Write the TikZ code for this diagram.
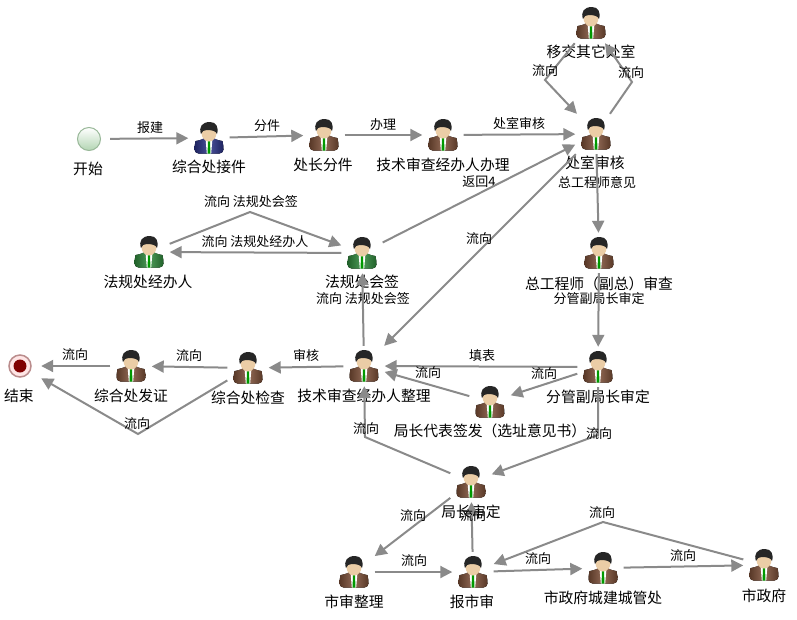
\documentclass[tikz,border=0pt]{standalone}
\usepackage{fontspec}
\setmainfont{Noto Sans CJK SC}
\usetikzlibrary{arrows.meta}
\definecolor{flowgray}{HTML}{8A8A8A}
\definecolor{jacketbrown}{HTML}{7E5038}
\definecolor{jacketblue}{HTML}{2A3288}
\definecolor{jacketgreen}{HTML}{2F8A3C}
\definecolor{skintone}{HTML}{EBCDA6}
\tikzset{
	flow/.style={draw=flowgray, line width=2pt, -{Triangle[length=12pt,width=12pt]}},
	clerknode/.style={rectangle, minimum width=41pt, minimum height=40pt, inner sep=0pt},
	eventnode/.style={rectangle, minimum size=42pt, inner sep=0pt},
	nodetext/.style={font=\fontsize{14.8}{16}\selectfont, inner sep=0pt},
	flowtext/.style={font=\fontsize{13}{14}\selectfont, inner sep=0pt},
	clerk/.pic={
		\fill[left color=#1!70!black, right color=#1!70!black, middle color=#1!85!white, rounded corners=4pt]
			(-14.5,15.5) -- (-14.5,7) .. controls (-13.5,3) and (-8,2) .. (-4,-1) -- (4,-1) .. controls (8,2) and (13.5,3) .. (14.5,7) -- (14.5,15.5) -- cycle;
		\fill[white] (-3.5,0) -- (3.5,0) -- (2.2,15.5) -- (-2.2,15.5) -- cycle;
		\fill[green!60!black] (-1,0) -- (1,0) -- (1.4,15.5) -- (-1.4,15.5) -- cycle;
		\fill[skintone] (0,-5) ellipse (7.5 and 8.5);
		\fill[black!85] (-8,-4) .. controls (-10.5,-11) and (-7,-16) .. (1,-16) .. controls (7,-16) and (10,-11) .. (8,-4) .. controls (7,-7) and (3,-8) .. (-2,-8) .. controls (-5,-8) and (-7,-7) .. (-8,-4) -- cycle;
	}
}
\begin{document}
\begin{tikzpicture}[x=1pt, y=-1pt]
	\useasboundingbox (0,0) rectangle (797,619);
	%%%%% NODES %%%%%
	\node[eventnode] (start) at (89,139) {};
	\draw[draw=green!30!black!40!white, top color=white, bottom color=green!45!black!30!white, line width=1pt] (start) circle (11.5);
	\node[clerknode] (accept) at (209,138) {};
	\pic at (accept) {clerk=jacketblue};
	\node[clerknode] (split) at (324,135) {};
	\pic at (split) {clerk=jacketbrown};
	\node[clerknode] (handle) at (443,135) {};
	\pic at (handle) {clerk=jacketbrown};
	\node[clerknode] (review) at (596,134) {};
	\pic at (review) {clerk=jacketbrown};
	\node[clerknode] (transfer) at (591,23) {};
	\pic at (transfer) {clerk=jacketbrown};
	\node[clerknode] (legalclerk) at (149,252) {};
	\pic at (legalclerk) {clerk=jacketgreen};
	\node[clerknode] (legalsign) at (362,253) {};
	\pic at (legalsign) {clerk=jacketgreen};
	\node[clerknode] (chief) at (599,253) {};
	\pic at (chief) {clerk=jacketbrown};
	\node[clerknode] (deputy) at (598,367) {};
	\pic at (deputy) {clerk=jacketbrown};
	\node[clerknode] (tidy) at (364,366) {};
	\pic at (tidy) {clerk=jacketbrown};
	\node[clerknode] (check) at (248,368) {};
	\pic at (check) {clerk=jacketbrown};
	\node[clerknode] (issue) at (131,366) {};
	\pic at (issue) {clerk=jacketbrown};
	\node[eventnode] (finish) at (20,366) {};
	\draw[draw=red!40!black!45!white, fill=red!10!white, line width=1.5pt] (finish) circle (11);
	\fill[red!50!black] (finish) circle (6.5);
	\node[clerknode] (proxy) at (490,402) {};
	\pic at (proxy) {clerk=jacketbrown};
	\node[clerknode] (bureau) at (471,482) {};
	\pic at (bureau) {clerk=jacketbrown};
	\node[clerknode] (citytidy) at (354,572) {};
	\pic at (citytidy) {clerk=jacketbrown};
	\node[clerknode] (cityreport) at (473,572) {};
	\pic at (cityreport) {clerk=jacketbrown};
	\node[clerknode] (cityoffice) at (603,568) {};
	\pic at (cityoffice) {clerk=jacketbrown};
	\node[clerknode] (citygov) at (764,565) {};
	\pic at (citygov) {clerk=jacketbrown};
	%%%%% NODE TEXT %%%%%
	\node[nodetext] (tstart) at (88,169) {开始};
	\node[nodetext] (taccept) at (209,167) {综合处接件};
	\node[nodetext] (tsplit) at (323,165) {处长分件};
	\node[nodetext] (thandle) at (443,165) {技术审查经办人办理};
	\node[nodetext] (treview) at (595,163) {处室审核};
	\node[flowtext] (treviewnext) at (597,182) {总工程师意见};
	\node[flowtext] (tback) at (479,182) {返回4};
	\node[nodetext] (ttransfer) at (591,52) {移交其它处室};
	\node[nodetext] (tlegalclerk) at (148,282) {法规处经办人};
	\node[nodetext] (tlegalsign) at (362,282) {法规处会签};
	\node[flowtext] (tlegalnext) at (363,299) {流向 法规处会签};
	\node[nodetext] (tchief) at (599,284) {总工程师（副总）审查};
	\node[flowtext] (tchiefnext) at (599,299) {分管副局长审定};
	\node[nodetext] (tdeputy) at (598,397) {分管副局长审定};
	\node[nodetext] (ttidy) at (364,396) {技术审查经办人整理};
	\node[nodetext] (tcheck) at (248,398) {综合处检查};
	\node[nodetext] (tissue) at (131,396) {综合处发证};
	\node[nodetext] (tfinish) at (19,396) {结束};
	\node[nodetext] (tproxy) at (490,431) {局长代表签发（选址意见书）};
	\node[nodetext] (tbureau) at (471,512) {局长审定};
	\node[nodetext] (tcitytidy) at (354,602) {市审整理};
	\node[nodetext] (tcityreport) at (472,602) {报市审};
	\node[nodetext] (tcityoffice) at (603,598) {市政府城建城管处};
	\node[nodetext] (tcitygov) at (764,596) {市政府};
	%%%%% BENDS %%%%%
	\coordinate (bendtransferl) at (545,80);
	\coordinate (bendtransferr) at (632,82);
	\coordinate (bendlegal) at (250,212);
	\coordinate (benddeputy) at (598,435);
	\coordinate (bendbureau) at (365,437);
	\coordinate (bendcheck) at (138,434);
	\coordinate (bendgov) at (603,522);
	%%%%% CONNECTORS %%%%%
	\draw[flow] (start) -- (accept);
	\draw[flow] (accept) -- (split);
	\draw[flow] (split) -- (handle);
	\draw[flow] (handle) -- (review);
	\draw[flow] (transfer) -- (bendtransferl) -- (review);
	\draw[flow] (review) -- (bendtransferr) -- (transfer);
	\draw[flow] (review) -- (chief);
	\draw[flow] (chief) -- (deputy);
	\draw[flow] (deputy) -- (tidy);
	\draw[flow] (deputy) -- (proxy);
	\draw[flow] (proxy) -- (tidy);
	\draw[flow] (deputy) -- (benddeputy) -- (bureau);
	\draw[flow] (bureau) -- (bendbureau) -- (tidy);
	\draw[flow] (review) -- (tidy);
	\draw[flow] (legalsign) -- (review);
	\draw[flow] (legalsign) -- (legalclerk);
	\draw[flow] (legalclerk) -- (bendlegal) -- (legalsign);
	\draw[flow] (tidy) -- (legalsign);
	\draw[flow] (tidy) -- (check);
	\draw[flow] (check) -- (issue);
	\draw[flow] (issue) -- (finish);
	\draw[flow] (check) -- (bendcheck) -- (finish);
	\draw[flow] (bureau) -- (citytidy);
	\draw[flow] (cityreport) -- (bureau);
	\draw[flow] (citytidy) -- (cityreport);
	\draw[flow] (cityreport) -- (cityoffice);
	\draw[flow] (cityoffice) -- (citygov);
	\draw[flow] (citygov) -- (bendgov) -- (cityreport);
	%%%%% FLOW TEXT %%%%%
	\node[flowtext] (f1) at (150,128) {报建};
	\node[flowtext] (f2) at (267,126) {分件};
	\node[flowtext] (f3) at (383,125) {办理};
	\node[flowtext] (f4) at (519,123) {处室审核};
	\node[flowtext] (f5) at (545,71) {流向};
	\node[flowtext] (f6) at (631,73) {流向};
	\node[flowtext] (f7) at (479,239) {流向};
	\node[flowtext] (f8) at (251,202) {流向 法规处会签};
	\node[flowtext] (f9) at (255,242) {流向 法规处经办人};
	\node[flowtext] (f10) at (482,356) {填表};
	\node[flowtext] (f11) at (544,374) {流向};
	\node[flowtext] (f12) at (428,373) {流向};
	\node[flowtext] (f13) at (599,434) {流向};
	\node[flowtext] (f14) at (366,429) {流向};
	\node[flowtext] (f15) at (306,356) {审核};
	\node[flowtext] (f16) at (189,356) {流向};
	\node[flowtext] (f17) at (75,355) {流向};
	\node[flowtext] (f18) at (137,424) {流向};
	\node[flowtext] (f19) at (413,516) {流向};
	\node[flowtext] (f20) at (473,516) {流向};
	\node[flowtext] (f21) at (414,561) {流向};
	\node[flowtext] (f22) at (538,559) {流向};
	\node[flowtext] (f23) at (683,556) {流向};
	\node[flowtext] (f24) at (602,513) {流向};
\end{tikzpicture}
\end{document}
